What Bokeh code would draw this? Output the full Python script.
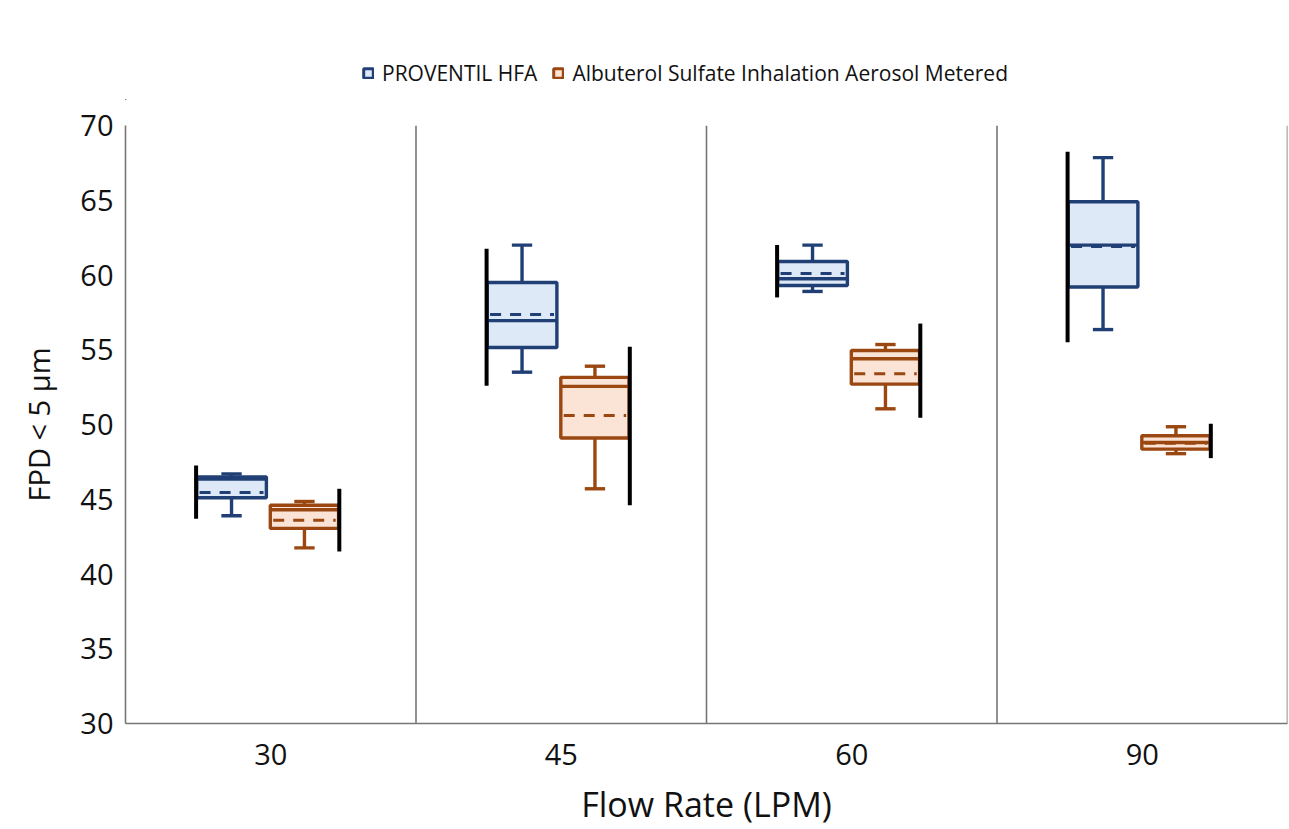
from bokeh.plotting import figure
from bokeh.layouts import column
from bokeh.models import (ColumnDataSource, FactorRange, Range1d, Span, Legend, LegendItem,
                          SingleIntervalTicker)
from bokeh.transform import dodge
from bokeh.embed import file_html
from bokeh.resources import INLINE

# ---------------- data ----------------
flows = ["30", "45", "60", "90"]

prov_whisker_low = [43.9, 53.5, 58.9, 56.35]
prov_q1 = [45.1, 55.15, 59.3, 59.2]
prov_median = [46.35, 56.95, 59.75, 62.0]
prov_q3 = [46.5, 59.5, 60.9, 64.9]
prov_whisker_high = [46.7, 62.0, 62.0, 67.85]
prov_mean = [45.45, 57.35, 60.1, 61.9]
prov_range_low = [43.7, 52.6, 58.5, 55.5]
prov_range_high = [47.25, 61.75, 62.0, 68.25]

albu_whisker_low = [41.75, 45.7, 51.05, 48.05]
albu_q1 = [43.05, 49.1, 52.7, 48.35]
albu_median = [44.3, 52.55, 54.4, 48.8]
albu_q3 = [44.6, 53.15, 54.95, 49.25]
albu_whisker_high = [44.85, 53.9, 55.35, 49.85]
albu_mean = [43.6, 50.6, 53.4, 48.75]
albu_range_low = [41.5, 44.6, 50.45, 47.75]
albu_range_high = [45.7, 55.2, 56.75, 50.05]

series_names = ["PROVENTIL HFA", "Albuterol Sulfate Inhalation Aerosol Metered"]
y_ticks_interval = 5

# ---------------- styles ----------------
FONT = "Open Sans"
BLUE_LINE, BLUE_FILL = "#203f74", "#dde9f6"
ORANGE_LINE, ORANGE_FILL = "#9a4711", "#fbe4d5"
AXIS_COLOR = "#767676"
TOP_H = 100

# ---------------- legend strip (top) ----------------
leg = figure(width=1289, height=TOP_H, x_range=Range1d(0, 1), y_range=Range1d(0, 1),
             output_backend="svg", toolbar_location=None, x_axis_type=None, y_axis_type=None,
             min_border=0)
leg.outline_line_color = None
leg.xgrid.grid_line_color = None
leg.ygrid.grid_line_color = None
leg.border_fill_color = "white"
# off-screen proxy source used only to give the legend its swatches
proxy = ColumnDataSource(dict(x=[-5.0], top=[-5.0], bottom=[-6.0]))

# ---------------- main chart ----------------
p = figure(width=1289, height=829 - TOP_H, x_range=FactorRange(factors=flows, range_padding=0),
           y_range=Range1d(30, 70), output_backend="svg", toolbar_location=None,
           min_border_left=125, min_border_right=2, min_border_top=125 - TOP_H, min_border_bottom=106)
p.background_fill_color = "white"
p.border_fill_color = "white"
p.outline_line_color = None
p.xgrid.grid_line_color = None
p.ygrid.grid_line_color = None

p.yaxis.ticker = SingleIntervalTicker(interval=y_ticks_interval)
for ax in (p.xaxis[0], p.yaxis[0]):
    ax.axis_line_color = AXIS_COLOR
    ax.axis_line_width = 1.6
    ax.major_tick_line_color = None
    ax.minor_tick_line_color = None
    ax.major_label_text_font = FONT
    ax.major_label_text_font_size = "29px"
    ax.major_label_text_color = "#111111"
    ax.axis_label_text_font = FONT
    ax.axis_label_text_font_style = "normal"
    ax.axis_label_text_color = "#111111"
p.xaxis.axis_label = "Flow Rate (LPM)"
p.yaxis.axis_label = "FPD < 5 µm"
p.xaxis.axis_label_text_font_size = "34px"
p.yaxis.axis_label_text_font_size = "29px"
p.xaxis.major_label_standoff = 14
p.yaxis.major_label_standoff = 6
p.xaxis.axis_label_standoff = 13
p.yaxis.axis_label_standoff = 19

# category separators (boundaries between flow-rate groups)
for i in range(1, len(flows) + 1):
    p.add_layout(Span(location=i, dimension="height", line_color=AXIS_COLOR, line_width=1.6))

src = ColumnDataSource(dict(
    flow=flows,
    p_wl=prov_whisker_low, p_q1=prov_q1, p_med=prov_median, p_q3=prov_q3, p_wh=prov_whisker_high,
    p_mean=prov_mean, p_rl=prov_range_low, p_rh=prov_range_high,
    a_wl=albu_whisker_low, a_q1=albu_q1, a_med=albu_median, a_q3=albu_q3, a_wh=albu_whisker_high,
    a_mean=albu_mean, a_rl=albu_range_low, a_rh=albu_range_high,
))

LW = 3.4
CAP = 0.07
legend_renderers = []
for pre, off, bw, lc, fc, black_off in [("p", -0.135, 0.24, BLUE_LINE, BLUE_FILL, -0.257),
                                         ("a", 0.116, 0.235, ORANGE_LINE, ORANGE_FILL, 0.236)]:
    # whiskers
    p.segment(x0=dodge("flow", off, range=p.x_range), x1=dodge("flow", off, range=p.x_range),
              y0=pre + "_q3", y1=pre + "_wh", source=src, line_color=lc, line_width=LW)
    p.segment(x0=dodge("flow", off, range=p.x_range), x1=dodge("flow", off, range=p.x_range),
              y0=pre + "_q1", y1=pre + "_wl", source=src, line_color=lc, line_width=LW)
    for col in ("_wh", "_wl"):
        p.segment(x0=dodge("flow", off - CAP / 2, range=p.x_range),
                  x1=dodge("flow", off + CAP / 2, range=p.x_range),
                  y0=pre + col, y1=pre + col, source=src, line_color=lc, line_width=LW)
    # box
    p.vbar(x=dodge("flow", off, range=p.x_range), width=bw, top=pre + "_q3", bottom=pre + "_q1",
           source=src, fill_color=fc, line_color=lc, line_width=LW)
    # legend proxy (same style) in the legend strip
    legend_renderers.append(leg.vbar(x="x", top="top", bottom="bottom", width=0.1, source=proxy,
                                     fill_color=fc, line_color=lc, line_width=3))
    # median
    p.segment(x0=dodge("flow", off - bw / 2, range=p.x_range), x1=dodge("flow", off + bw / 2, range=p.x_range),
              y0=pre + "_med", y1=pre + "_med", source=src, line_color=lc, line_width=LW)
    # mean (dashed)
    p.segment(x0=dodge("flow", off - bw / 2 + 0.01, range=p.x_range),
              x1=dodge("flow", off + bw / 2 - 0.01, range=p.x_range),
              y0=pre + "_mean", y1=pre + "_mean", source=src, line_color=lc, line_width=3,
              line_dash="11 9")
    # black range bar
    p.segment(x0=dodge("flow", black_off, range=p.x_range), x1=dodge("flow", black_off, range=p.x_range),
              y0=pre + "_rl", y1=pre + "_rh", source=src, line_color="black", line_width=4)

legend = Legend(items=[LegendItem(label=series_names[0], renderers=[legend_renderers[0]]),
                       LegendItem(label=series_names[1], renderers=[legend_renderers[1]])],
                orientation="horizontal", location=(237, 13),
                label_text_font=FONT, label_text_font_size="21px", label_text_color="#111111",
                glyph_width=12, glyph_height=12, spacing=15, padding=0, margin=0,
                label_standoff=8, border_line_color=None, background_fill_alpha=0)
leg.add_layout(legend, "center")

layout = column(leg, p, spacing=0)
open("out.html", "w").write(file_html(layout, INLINE))
